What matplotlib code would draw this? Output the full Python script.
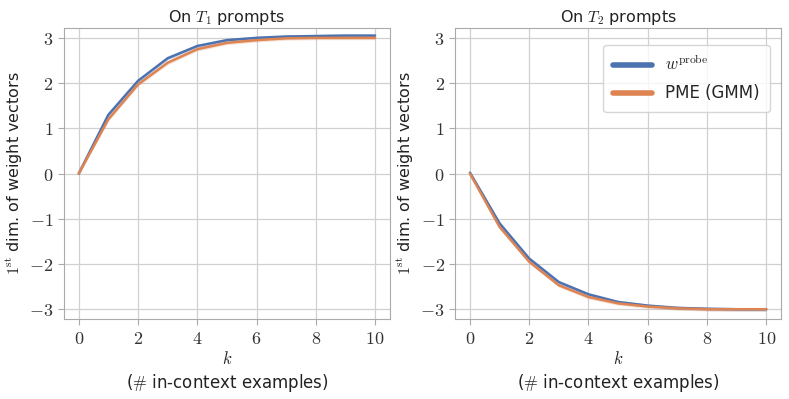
import numpy as np
import matplotlib
matplotlib.use("Agg")
import matplotlib.pyplot as plt
import seaborn as sns

sns.set_theme(style="whitegrid", rc={"xtick.bottom": True, "ytick.left": True})
plt.rcParams["font.family"] = ["DejaVu Sans"]
plt.rcParams["mathtext.fontset"] = "cm"

# data
k = np.arange(11)
t1_probe = [0.0, 1.30, 2.05, 2.55, 2.82, 2.95, 3.00, 3.03, 3.04, 3.05, 3.05]
t1_pme = [0.0, 1.20, 1.97, 2.45, 2.75, 2.89, 2.95, 2.99, 3.00, 3.00, 3.00]
t2_probe = [0.02, -1.10, -1.88, -2.40, -2.67, -2.84, -2.92, -2.97, -2.99, -3.00, -3.00]
t2_pme = [0.0, -1.18, -1.95, -2.47, -2.73, -2.87, -2.94, -2.98, -3.00, -3.00, -3.00]
band = 0.04

blue = sns.color_palette("deep")[0]
orange = sns.color_palette("deep")[1]

fig, axes = plt.subplots(1, 2, figsize=(7.89, 3.99), dpi=100)
panels = [(r"On $T_1$ prompts", t1_probe, t1_pme), (r"On $T_2$ prompts", t2_probe, t2_pme)]

for ax, (title, probe, pme) in zip(axes, panels):
    probe = np.array(probe)
    pme = np.array(pme)
    ax.fill_between(k, probe - band, probe + band, color=blue, alpha=0.25, lw=0)
    ax.plot(k, probe, color=blue, lw=1.8, label=r"$w^{\mathrm{probe}}$")
    ax.fill_between(k, pme - band, pme + band, color=orange, alpha=0.25, lw=0)
    ax.plot(k, pme, color=orange, lw=1.8, label="PME (GMM)")
    ax.set_title(title, fontsize=11.5, pad=4, color="#222222")
    ax.set_xlim(-0.5, 10.5)
    ax.set_ylim(-3.22, 3.22)
    ax.set_xticks(range(0, 11, 2))
    ax.set_xticklabels([f"${v}$" for v in range(0, 11, 2)], fontsize=13)
    ax.set_yticks(range(-3, 4))
    ax.set_yticklabels([f"${v}$" if v >= 0 else f"$-{abs(v)}$" for v in range(-3, 4)], fontsize=13)
    ax.tick_params(colors="#333333", length=4, width=0.8, color="#aaaaaa")
    ax.set_xlabel("$k$\n" + r"($\#$ in-context examples)", fontsize=12, labelpad=2, color="#222222")
    ax.set_ylabel(r"$1^{\mathrm{st}}$ dim. of weight vectors", fontsize=11.5, labelpad=3, color="#222222")
    for s in ax.spines.values():
        s.set_color("#aaaaaa")
        s.set_linewidth(0.8)
    ax.grid(color="#d0d0d0", lw=0.9)

leg = axes[1].legend(loc="upper right", fontsize=12, handlelength=2.3, frameon=True,
                     borderpad=0.6, labelspacing=0.6, bbox_to_anchor=(0.99, 0.97))
for line in leg.get_lines():
    line.set_linewidth(4)

plt.subplots_adjust(left=0.081, right=0.99, top=0.93, bottom=0.2, wspace=0.2)
plt.savefig("out.png", dpi=100)
